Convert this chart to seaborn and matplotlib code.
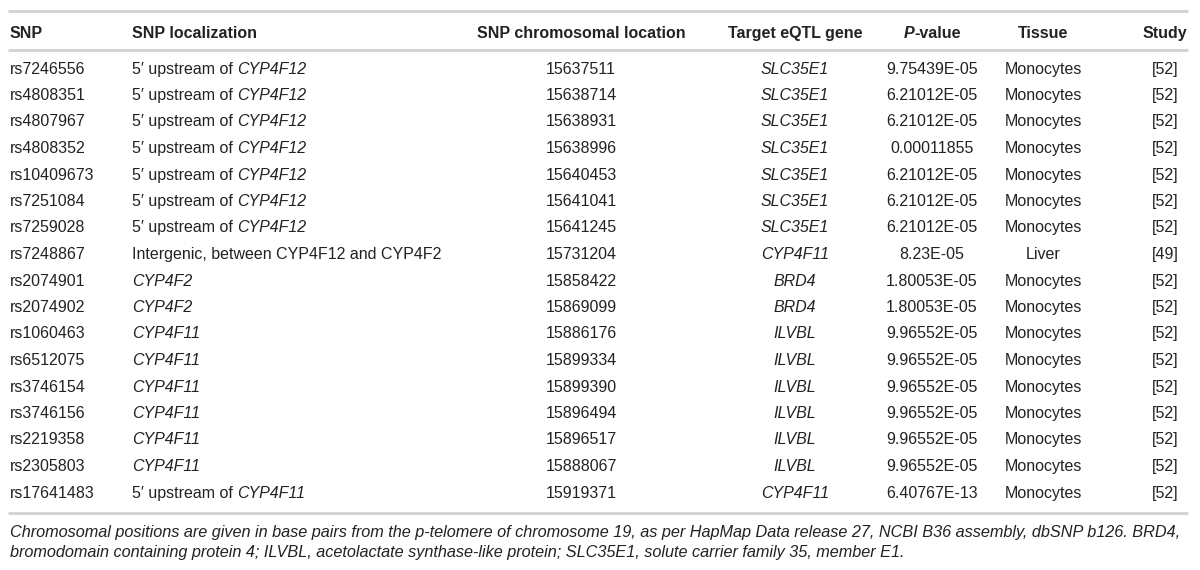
import matplotlib
matplotlib.use("Agg")
import matplotlib.pyplot as plt
import seaborn as sns

# table data
snps = ["rs7246556", "rs4808351", "rs4807967", "rs4808352", "rs10409673", "rs7251084",
        "rs7259028", "rs7248867", "rs2074901", "rs2074902", "rs1060463", "rs6512075",
        "rs3746154", "rs3746156", "rs2219358", "rs2305803", "rs17641483"]
loc_prefix = ["5\u2032 upstream of "] * 7 + ["Intergenic, between CYP4F12 and CYP4F2"] + [""] * 8 + ["5\u2032 upstream of "]
loc_gene = ["CYP4F12"] * 7 + [""] + ["CYP4F2"] * 2 + ["CYP4F11"] * 6 + ["CYP4F11"]
positions = ["15637511", "15638714", "15638931", "15638996", "15640453", "15641041",
             "15641245", "15731204", "15858422", "15869099", "15886176", "15899334",
             "15899390", "15896494", "15896517", "15888067", "15919371"]
genes = ["SLC35E1"] * 7 + ["CYP4F11", "BRD4", "BRD4"] + ["ILVBL"] * 6 + ["CYP4F11"]
pvalues = ["9.75439E-05", "6.21012E-05", "6.21012E-05", "0.00011855", "6.21012E-05",
           "6.21012E-05", "6.21012E-05", "8.23E-05", "1.80053E-05", "1.80053E-05",
           "9.96552E-05", "9.96552E-05", "9.96552E-05", "9.96552E-05", "9.96552E-05",
           "9.96552E-05", "6.40767E-13"]
tissues = ["Monocytes"] * 7 + ["Liver"] + ["Monocytes"] * 9
studies = ["[52]"] * 7 + ["[49]"] + ["[52]"] * 9
headers = ["SNP", "SNP localization", "SNP chromosomal location", "Target eQTL gene",
           "-value", "Tissue", "Study"]
footnote = [
    "Chromosomal positions are given in base pairs from the p-telomere of chromosome 19, "
    "as per HapMap Data release 27, NCBI B36 assembly, dbSNP b126. BRD4,",
    "bromodomain containing protein 4; ILVBL, acetolactate synthase-like protein; "
    "SLC35E1, solute carrier family 35, member E1.",
]

sns.set_theme(style="white")
plt.rcParams["font.family"] = ["Liberation Sans", "DejaVu Sans"]

txt = "#222222"
rule = "#d2d2d2"
fs = 11.5
va = "baseline"
half_cap = 5.5  # baseline sits this far below a row's centre line

fig = plt.figure(figsize=(12, 5.7), dpi=100)
ax = fig.add_axes([0, 0, 1, 1])
ax.set_xlim(0, 1200)
ax.set_ylim(570, 0)
ax.axis("off")
renderer = fig.canvas.get_renderer()


def extent(t):
    bb = t.get_window_extent(renderer=renderer)
    inv = ax.transData.inverted()
    return inv.transform((bb.x0, bb.y0))[0], inv.transform((bb.x1, bb.y0))[0]


col_x = [10, 132, 581, 795, 932, 1043, 1165]
col_ha = ["left", "left", "center", "center", "center", "center", "center"]

# rules
for y in [11, 50, 513]:
    ax.plot([8, 1188], [y, y], color=rule, lw=2, solid_capstyle="butt")

# header
head_y = round(32 + half_cap)
for i, h in enumerate(headers):
    if i == 4:
        continue
    ax.text(col_x[i], head_y, h, ha=col_ha[i], va=va, fontsize=fs,
            fontweight="bold", color=txt)
# P-value header with italic P
tp = ax.text(0, head_y, "P", fontsize=fs, fontweight="bold", style="italic", va=va, color=txt)
tv = ax.text(0, head_y, "-value", fontsize=fs, fontweight="bold", va=va, color=txt)
wp = extent(tp)[1]
wv = extent(tv)[1]
start = col_x[4] - (wp + wv) / 2
tp.set_x(start)
tv.set_x(start + wp)

# rows
row0, dy = 68, 26.5
for r in range(len(snps)):
    y = round(row0 + r * dy + half_cap)
    ax.text(col_x[0], y, snps[r], ha="left", va=va, fontsize=fs, color=txt)
    x = col_x[1]
    if loc_prefix[r]:
        t = ax.text(x, y, loc_prefix[r], ha="left", va=va, fontsize=fs, color=txt)
        x = extent(t)[1]
    if loc_gene[r]:
        ax.text(x, y, loc_gene[r], ha="left", va=va, fontsize=fs,
                style="italic", color=txt)
    ax.text(col_x[2], y, positions[r], ha="center", va=va, fontsize=fs, color=txt)
    ax.text(col_x[3], y, genes[r], ha="center", va=va, fontsize=fs,
            style="italic", color=txt)
    ax.text(col_x[4], y, pvalues[r], ha="center", va=va, fontsize=fs, color=txt)
    ax.text(col_x[5], y, tissues[r], ha="center", va=va, fontsize=fs, color=txt)
    ax.text(col_x[6], y, studies[r], ha="center", va=va, fontsize=fs, color=txt)

# footnote, sized so the first line runs to the right end of the rules
ft = ax.text(10, 537, footnote[0], ha="left", va=va, fontsize=11, style="italic", color=txt)
x0, x1 = extent(ft)
ffs = 11 * (1187 - 10) / (x1 - x0)
ft.set_fontsize(ffs)
ax.text(10, 557, footnote[1], ha="left", va=va, fontsize=ffs, style="italic", color=txt)

fig.savefig("out.png", dpi=100)
plt.close(fig)
